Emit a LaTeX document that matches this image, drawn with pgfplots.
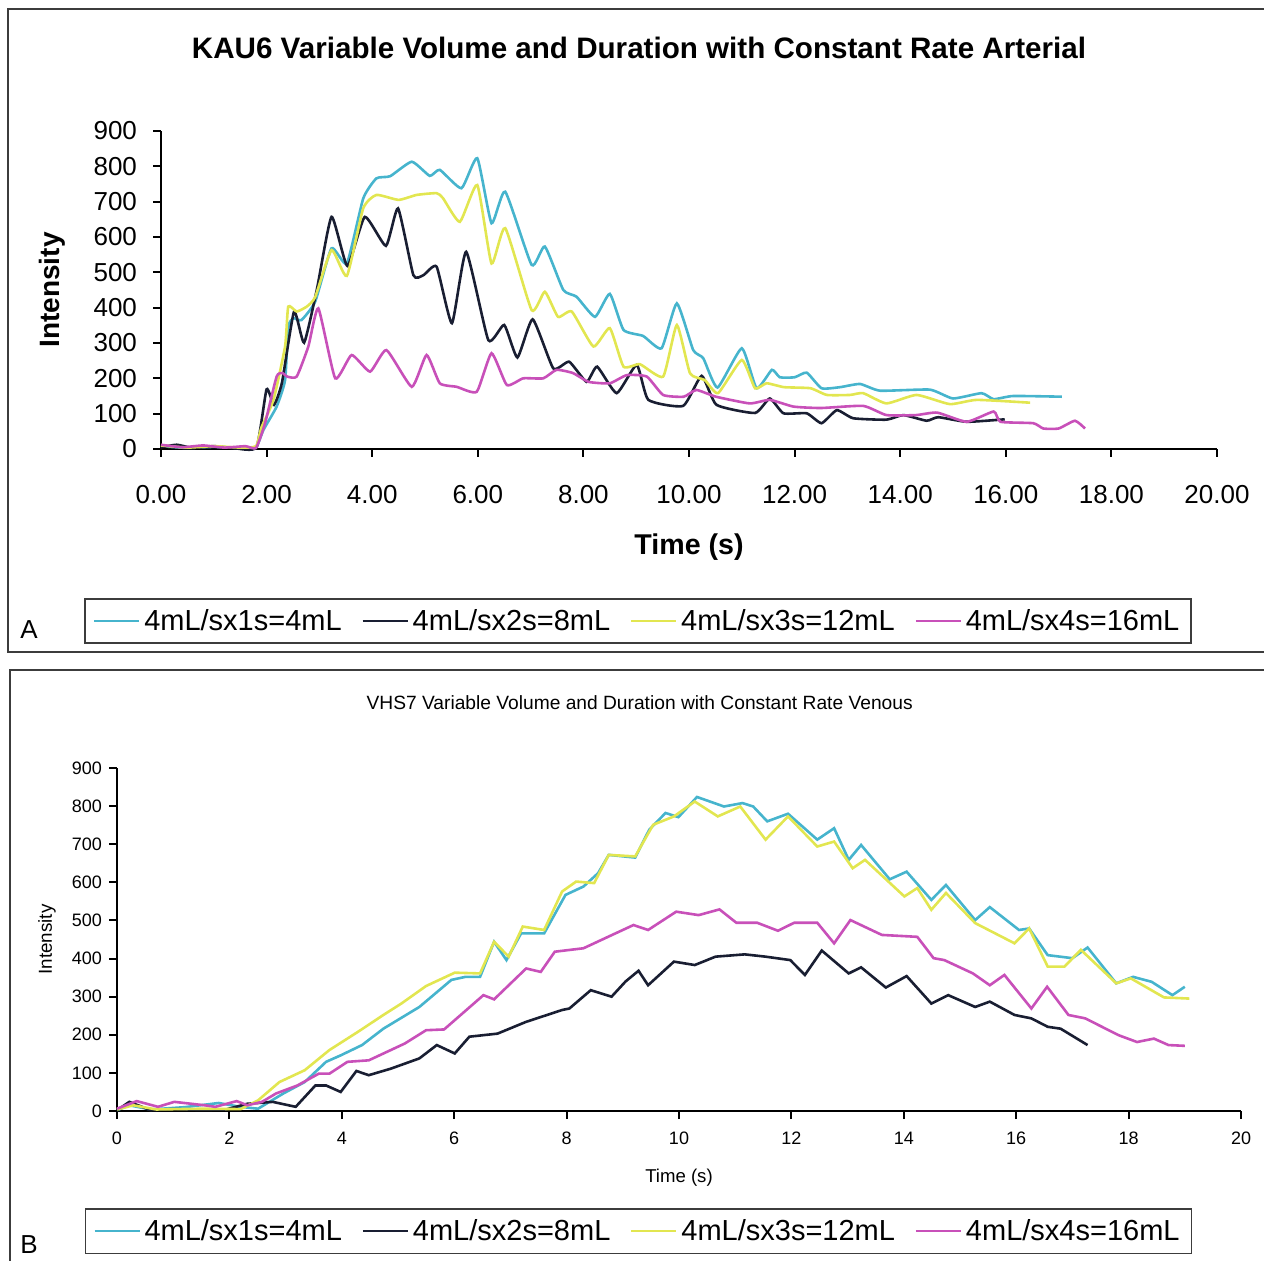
\documentclass[border=0pt]{standalone}
\usepackage{fontspec}
\setmainfont{Liberation Sans}
\usepackage{pgfplots}
\pgfplotsset{compat=1.18}

\definecolor{ccyan}{RGB}{70,180,205}
\definecolor{cblack}{RGB}{25,30,50}
\definecolor{cyellow}{RGB}{226,230,80}
\definecolor{cmagenta}{RGB}{200,80,185}
\definecolor{frame}{RGB}{60,60,60}

% common look of both panels
\pgfplotsset{
  panel/.style={
    scale only axis,
    axis x line*=bottom,
    axis y line*=left,
    axis line style={line width=1pt, black},
    tick style={line width=1pt, black},
    tick align=outside,
    major tick length=4pt,
    xmin=0, xmax=20, ymin=0, ymax=900,
    xtick={0,2,...,20},
    ytick={0,100,...,900},
    clip=false,
    /pgf/number format/assume math mode=true,
    legend columns=4,
    legend cell align=left,
    legend image code/.code={\draw[##1, line width=1pt] (0pt,0pt) -- (22.5pt,0pt);},
    legend style={anchor=center, draw=frame, line width=0.9pt,
      font=\fontsize{14.5}{16}\selectfont, inner xsep=4pt, inner ysep=3pt,
      /tikz/every even column/.append style={column sep=8pt}},
  },
  s1/.style={ccyan, line width=1.3pt},
  s2/.style={cblack, line width=1.3pt},
  s3/.style={cyellow, line width=1.3pt},
  s4/.style={cmagenta, line width=1.3pt},
}

\begin{document}
\begin{tikzpicture}
\useasboundingbox (0,0) rectangle (632pt,630pt);
\draw[frame, line width=0.9pt] (636pt,625.5pt) -- (4pt,625.5pt) -- (4pt,304pt) -- (636pt,304pt);
\draw[frame, line width=0.9pt] (636pt,295pt) -- (5pt,295pt) -- (5pt,-2pt);
\node[font=\fontsize{13}{15}\selectfont] at (14.5pt,315pt) {A};
\node[font=\fontsize{13}{15}\selectfont] at (14.5pt,7.5pt) {B};

% ---------- A: arterial ----------
\begin{axis}[panel,
  at={(80.5pt,405.5pt)}, anchor=south west,
  width=528pt, height=159pt,
  ticklabel style={font=\fontsize{13}{15}\selectfont},
  xticklabel style={yshift=-10.5pt, /pgf/number format/.cd, fixed, fixed zerofill, precision=2},
  yticklabel style={xshift=-4.5pt},
  title={KAU6 Variable Volume and Duration with Constant Rate Arterial},
  title style={font=\bfseries\fontsize{14.8}{17}\selectfont, at={(axis description cs:0.4527,1.223)}, anchor=center},
  xlabel={Time (s)},
  xlabel style={font=\bfseries\fontsize{14.3}{17}\selectfont, at={(axis description cs:0.5,-0.308)}, anchor=center},
  ylabel={Intensity},
  ylabel style={font=\bfseries\fontsize{14}{17}\selectfont, at={(axis description cs:-0.1032,0.5)}, anchor=center},
  legend style={at={(axis description cs:0.452,-0.541)}},
]
\addplot[s1, smooth, tension=0.3] coordinates {
(0,8) (0.5,3) (1.0,6) (1.5,3) (1.8,5) (1.94,54) (2.19,120) (2.35,195) (2.41,346)
(2.51,370) (2.66,365) (2.92,417) (3.23,568) (3.52,525) (3.83,709) (4.08,766)
(4.34,772) (4.75,813) (5.09,773) (5.28,790) (5.69,738) (5.99,823) (6.26,639)
(6.52,728) (7.02,521) (7.27,573) (7.62,450) (7.87,431) (8.22,374) (8.5,439)
(8.76,337) (9.13,320) (9.48,285) (9.77,412) (10.08,280) (10.27,257) (10.54,174)
(11.0,285) (11.28,172) (11.57,224) (11.72,203) (12.0,203) (12.23,216) (12.51,172)
(12.86,175) (13.24,184) (13.62,165) (14.56,168) (15.0,143) (15.54,158) (15.77,141)
(16.14,150) (17.06,148)};
\addlegendentry{4mL/sx1s=4mL}
\addplot[s2, smooth, tension=0.3] coordinates {
(0,5) (0.3,12) (0.6,3) (1.0,8) (1.4,2) (1.81,5) (2.0,169) (2.14,125) (2.29,187)
(2.52,389) (2.71,301) (2.95,450) (3.23,657) (3.53,518) (3.86,657) (4.26,575)
(4.49,681) (4.78,492) (4.97,492) (5.22,516) (5.51,356) (5.78,558) (6.2,308)
(6.5,351) (6.75,259) (7.04,367) (7.43,228) (7.73,247) (8.06,190) (8.26,233)
(8.63,158) (9.01,238) (9.23,139) (9.89,122) (10.24,207) (10.52,125) (11.25,102)
(11.53,143) (11.79,101) (12.23,101) (12.51,73) (12.8,110) (13.11,87) (13.74,83)
(14.06,96) (14.5,80) (14.72,90) (15.26,77) (15.98,84)};
\addlegendentry{4mL/sx2s=8mL}
\addplot[s3, smooth, tension=0.3] coordinates {
(0,10) (0.5,4) (1.0,8) (1.5,4) (1.8,8) (1.9,60) (2.13,139) (2.35,290) (2.41,403)
(2.57,389) (2.76,403) (2.92,430) (3.23,563) (3.52,490) (3.83,681) (4.08,719)
(4.5,705) (4.84,719) (5.22,724) (5.34,710) (5.66,643) (5.99,747) (6.26,525)
(6.52,625) (7.02,393) (7.27,445) (7.52,374) (7.78,389) (8.19,290) (8.5,342)
(8.76,233) (9.07,240) (9.51,205) (9.77,351) (10.02,214) (10.3,195) (10.55,158)
(11.0,252) (11.25,172) (11.47,186) (11.8,175) (12.3,172) (12.61,153) (13.05,153)
(13.3,158) (13.74,129) (14.31,153) (14.94,127) (15.45,139) (16.46,131)};
\addlegendentry{4mL/sx3s=12mL}
\addplot[s4, smooth, tension=0.3] coordinates {
(0,12) (0.4,5) (0.8,10) (1.2,4) (1.6,8) (1.8,3) (1.97,73) (2.19,205) (2.3,215)
(2.39,205) (2.57,205) (2.79,290) (2.98,398) (3.3,200) (3.61,266) (3.96,219)
(4.27,280) (4.75,176) (5.03,266) (5.28,186) (5.6,176) (5.98,162) (6.26,271)
(6.55,181) (6.86,200) (7.24,200) (7.49,224) (7.8,215) (8.1,190) (8.5,186)
(8.82,209) (9.2,205) (9.51,153) (9.9,148) (10.14,167) (10.51,148) (11.15,129)
(11.53,139) (11.98,120) (12.5,116) (13.3,122) (13.74,96) (14.3,96) (14.7,103)
(15.26,77) (15.77,106) (15.9,77) (16.52,73) (16.71,58) (17.0,58) (17.31,80) (17.5,58)};
\addlegendentry{4mL/sx4s=16mL}
\end{axis}

% ---------- B: venous ----------
\begin{axis}[panel,
  at={(58.5pt,74.5pt)}, anchor=south west,
  width=562pt, height=171.5pt,
  ticklabel style={font=\fontsize{9}{11}\selectfont},
  xticklabel style={yshift=-3pt},
  title={VHS7 Variable Volume and Duration with Constant Rate Venous},
  title style={font=\fontsize{9.6}{11}\selectfont, at={(axis description cs:0.465,1.157)}, anchor=center},
  xlabel={Time (s)},
  xlabel style={font=\fontsize{9.3}{11}\selectfont, at={(axis description cs:0.5,-0.195)}, anchor=center},
  ylabel={Intensity},
  ylabel style={font=\fontsize{9.4}{11}\selectfont, at={(axis description cs:-0.0623,0.5)}, anchor=center},
  legend style={at={(axis description cs:0.464,-0.351)}},
]
\addplot[s1] coordinates {
(0,2) (0.22,15) (0.6,4) (1.2,10) (1.81,21) (2.19,11) (2.51,6) (2.96,46) (3.34,76)
(3.72,129) (3.98,146) (4.36,173) (4.74,216) (5.38,273) (5.95,344) (6.2,352)
(6.46,352) (6.71,444) (6.93,396) (7.19,466) (7.6,466) (7.98,567) (8.3,589)
(8.56,624) (8.75,672) (9.22,665) (9.47,738) (9.76,782) (9.99,771) (10.32,824)
(10.8,799) (11.13,808) (11.32,799) (11.57,760) (11.94,780) (12.46,712) (12.76,742)
(13.02,659) (13.24,698) (13.75,608) (14.05,628) (14.49,554) (14.75,593) (15.27,501)
(15.53,535) (16.05,475) (16.23,479) (16.56,409) (17.0,401) (17.27,429) (17.78,335)
(18.08,352) (18.41,339) (18.78,304) (19.0,326)};
\addlegendentry{4mL/sx1s=4mL}
\addplot[s2] coordinates {
(0,2) (0.22,24) (0.6,2) (1.0,5) (1.5,3) (1.94,4) (2.32,19) (2.77,24) (3.18,11)
(3.53,67) (3.72,67) (3.98,50) (4.26,105) (4.48,94) (4.87,111) (5.38,138) (5.69,173)
(6.01,151) (6.27,195) (6.77,203) (7.28,234) (7.92,265) (8.05,269) (8.43,317)
(8.8,300) (9.05,340) (9.28,368) (9.45,330) (9.91,392) (10.28,383) (10.65,405)
(11.17,411) (11.54,405) (11.98,396) (12.24,357) (12.54,421) (13.02,361) (13.24,377)
(13.68,324) (14.05,354) (14.49,282) (14.79,304) (15.27,273) (15.53,287) (15.97,252)
(16.27,243) (16.56,221) (16.79,216) (17.27,173)};
\addlegendentry{4mL/sx2s=8mL}
\addplot[s3] coordinates {
(0,4) (0.29,15) (0.7,4) (1.5,6) (2.2,5) (2.51,28) (2.89,76) (3.34,107) (3.78,160)
(4.29,208) (4.74,252) (5.06,282) (5.5,328) (6.01,363) (6.46,361) (6.71,444)
(6.97,405) (7.22,484) (7.6,475) (7.92,576) (8.17,602) (8.49,598) (8.75,672)
(9.22,668) (9.54,751) (9.91,773) (10.28,812) (10.69,773) (11.09,799) (11.54,712)
(11.94,773) (12.46,694) (12.76,707) (13.09,637) (13.31,659) (14.01,563) (14.24,585)
(14.49,528) (14.75,572) (15.27,493) (15.97,440) (16.23,479) (16.56,379) (16.86,379)
(17.15,423) (17.78,335) (18.04,348) (18.63,298) (19.08,295)};
\addlegendentry{4mL/sx3s=12mL}
\addplot[s4] coordinates {
(0,6) (0.35,26) (0.73,11) (1.02,24) (1.56,15) (1.75,11) (2.13,26) (2.32,15) (2.58,24)
(2.83,46) (3.21,67) (3.59,98) (3.78,98) (4.1,129) (4.48,133) (5.12,177) (5.5,212)
(5.82,214) (6.52,304) (6.71,293) (7.28,374) (7.54,365) (7.79,418) (8.3,427)
(8.81,462) (9.19,488) (9.45,475) (9.95,523) (10.35,514) (10.72,529) (11.02,494)
(11.39,494) (11.76,473) (12.05,494) (12.46,494) (12.76,440) (13.05,501) (13.61,462)
(14.24,457) (14.53,401) (14.72,396) (15.23,361) (15.53,330) (15.79,357) (16.27,269)
(16.55,326) (16.93,252) (17.23,243) (17.82,199) (18.15,181) (18.45,190) (18.71,173)
(19.0,171)};
\addlegendentry{4mL/sx4s=16mL}
\end{axis}
\end{tikzpicture}
\end{document}
